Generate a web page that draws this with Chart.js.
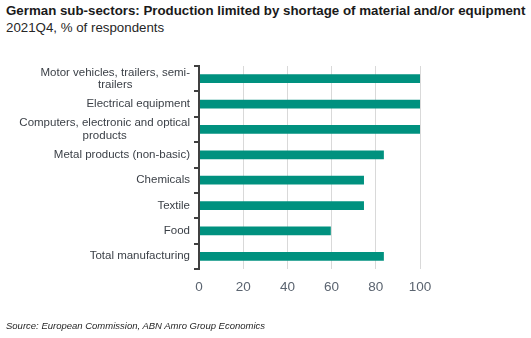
<!DOCTYPE html>
<html>
<head>
<meta charset="utf-8">
<script src="https://cdn.jsdelivr.net/npm/chart.js@4"></script>
<style>
  html, body { margin: 0; padding: 0; background: #fff; }
  body { width: 531px; height: 338px; position: relative; overflow: hidden; font-family: "Liberation Sans", Arial, sans-serif; }
  .title { position: absolute; left: 6px; top: 3px; font-size: 13.3px; font-weight: bold; color: #1a1a1a; white-space: nowrap; }
  .sub { position: absolute; left: 6px; top: 20px; font-size: 13.3px; color: #262626; white-space: nowrap; }
  .source { position: absolute; left: 6px; top: 320px; font-size: 9.5px; font-style: italic; color: #262626; white-space: nowrap; }
  #chart { position: absolute; left: 0; top: 0; }
</style>
</head>
<body>
<div class="title">German sub-sectors: Production limited by shortage of material and/or equipment</div>
<div class="sub">2021Q4, % of respondents</div>
<canvas id="chart" width="531" height="338"></canvas>
<div class="source">Source: European Commission, ABN Amro Group Economics</div>
<script>
const sectors = [
    ['Motor vehicles, trailers, semi-', 'trailers'],
    'Electrical equipment',
    ['Computers, electronic and optical', 'products'],
    'Metal products (non-basic)',
    'Chemicals',
    'Textile',
    'Food',
    'Total manufacturing'
];
const shares = [100, 100, 100, 83.5, 74.5, 74.5, 59.5, 83.5];
const xTicks = [0, 20, 40, 60, 80, 100];

// category axis: vertical axis line, tick marks between categories,
// label blocks right-aligned with wrapped lines centred inside the block
const sectorAxis = {
    id: 'sectorAxis',
    afterDatasetsDraw(chart) {
        const c = chart.ctx;
        const y = chart.scales.y;
        const area = chart.chartArea;
        const axisX = Math.round(area.left);
        const right = axisX - 9;
        const lh = 12.5;
        c.save();

        c.strokeStyle = '#404040';
        c.lineWidth = 2;
        c.lineCap = 'butt';
        c.beginPath();
        c.moveTo(axisX, area.top - 1);
        c.lineTo(axisX, area.bottom + 1);
        for (let i = 0; i <= sectors.length; i++) {
            let py;
            if (i === 0) py = area.top;
            else if (i === sectors.length) py = area.bottom;
            else py = (y.getPixelForValue(i - 1) + y.getPixelForValue(i)) / 2;
            py = Math.round(py);
            c.moveTo(axisX - 5, py);
            c.lineTo(axisX, py);
        }
        c.stroke();

        c.font = '11.5px "Liberation Sans"';
        c.fillStyle = '#3a3f46';
        c.textBaseline = 'middle';
        c.textAlign = 'center';
        sectors.forEach((lab, i) => {
            const lines = Array.isArray(lab) ? lab : [lab];
            const w = Math.max(...lines.map(l => c.measureText(l).width));
            const cx = right - w / 2;
            const cy = y.getPixelForValue(i);
            lines.forEach((l, k) => {
                c.fillText(l, cx, cy + (k - (lines.length - 1) / 2) * lh);
            });
        });
        c.restore();
    }
};

const ctx = document.getElementById('chart').getContext('2d');
new Chart(ctx, {
    type: 'bar',
    data: {
        labels: sectors,
        datasets: [{
            data: shares,
            backgroundColor: '#00917f',
            barThickness: 8
        }]
    },
    options: {
        indexAxis: 'y',
        responsive: false,
        animation: false,
        layout: { padding: { top: 66, right: 111, bottom: 39, left: 0 } },
        plugins: { legend: { display: false }, tooltip: { enabled: false } },
        scales: {
            x: {
                min: 0,
                max: 100,
                afterBuildTicks: (scale) => { scale.ticks = xTicks.map(v => ({ value: v })); },
                afterFit: (scale) => { scale.height = 30; },
                grid: { color: '#d9d9d9', lineWidth: 1, drawTicks: false },
                border: { display: false },
                ticks: { color: '#5b6470', padding: 10, font: { family: 'Liberation Sans', size: 13.5 } }
            },
            y: {
                afterFit: (scale) => { scale.width = 199; },
                grid: { display: false },
                border: { display: false },
                ticks: { display: false, autoSkip: false }
            }
        }
    },
    plugins: [sectorAxis]
});
</script>
</body>
</html>
